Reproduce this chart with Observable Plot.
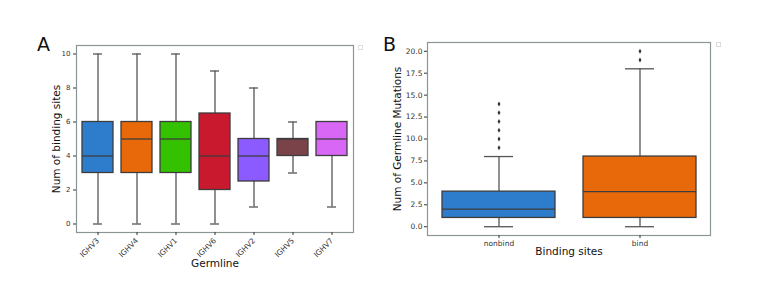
<!DOCTYPE html>
<html>
<head>
<meta charset="utf-8">
<script src="https://cdn.jsdelivr.net/npm/d3@7"></script>
<script src="https://cdn.jsdelivr.net/npm/@observablehq/plot@0.6"></script>
<style>
  body { margin: 0; background: #fff; font-family: "DejaVu Sans", sans-serif; }
  #wrap { position: relative; width: 762px; height: 290px; overflow: hidden; }
  .panel { position: absolute; top: 0; }
  .letter { position: absolute; font-family: "DejaVu Sans", sans-serif; font-size: 19px; color: #111; }
  .leg { position: absolute; width: 3px; height: 3px; border: 1px solid #ddd; background: #fff; }
</style>
</head>
<body>
<div id="wrap">
  <div class="panel" id="pa" style="left:0"></div>
  <div class="panel" id="pb" style="left:370px"></div>
  <div class="letter" style="left:37px; top:33px">A</div>
  <div class="letter" style="left:383px; top:33px">B</div>
  <div class="leg" style="left:358px; top:45px"></div>
  <div class="leg" style="left:716px; top:42px"></div>
</div>
<script>
// Panel A: binding sites per germline
const germlines = ["IGHV3", "IGHV4", "IGHV1", "IGHV6", "IGHV2", "IGHV5", "IGHV7"];
const germMin = [0, 0, 0, 0, 1, 3, 1];
const germQ1 = [3, 3, 3, 2, 2.5, 4, 4];
const germMed = [4, 5, 5, 4, 4, 5, 5];
const germQ3 = [6, 6, 6, 6.5, 5, 5, 6];
const germMax = [10, 10, 10, 9, 8, 6, 6];
const germColors = ["#2e7dcc", "#e8690a", "#33c100", "#c8192e", "#8c5bff", "#7a4349", "#d967f5"];
const aTicks = [0, 2, 4, 6, 8, 10];

// Panel B: germline mutations by binding site status
const sites = ["nonbind", "bind"];
const siteMin = [0, 0];
const siteQ1 = [1, 1];
const siteMed = [2, 4];
const siteQ3 = [4, 8];
const siteMax = [8, 18];
const siteOutliers = [[9, 10, 11, 12, 13, 14], [19, 20]];
const siteColors = ["#2e7dcc", "#e8690a"];
const bTicks = [0, 2.5, 5, 7.5, 10, 12.5, 15, 17.5, 20];

const lineCol = "#3d3d3d";
const whiskCol = "#555";
const frameCol = "#8a9696";

function boxMarks(cats, mins, q1s, meds, q3s, maxs, colors, capInset) {
  const rows = cats.map((c, i) => ({c, min: mins[i], q1: q1s[i], med: meds[i], q3: q3s[i], max: maxs[i], col: colors[i]}));
  return [
    Plot.ruleX(rows.filter(d => d.min < d.q1), {x: "c", y1: "min", y2: "q1", stroke: whiskCol, strokeWidth: 1.3}),
    Plot.ruleX(rows.filter(d => d.max > d.q3), {x: "c", y1: "q3", y2: "max", stroke: whiskCol, strokeWidth: 1.3}),
    Plot.tickY(rows.filter(d => d.min < d.q1), {x: "c", y: "min", stroke: whiskCol, strokeWidth: 1.3, insetLeft: capInset, insetRight: capInset}),
    Plot.tickY(rows.filter(d => d.max > d.q3), {x: "c", y: "max", stroke: whiskCol, strokeWidth: 1.3, insetLeft: capInset, insetRight: capInset}),
    Plot.barY(rows, {x: "c", y1: "q1", y2: "q3", fill: "col", stroke: lineCol, strokeWidth: 1.3}),
    Plot.tickY(rows, {x: "c", y: "med", stroke: lineCol, strokeWidth: 1.3})
  ];
}

const plotA = Plot.plot({
  width: 370, height: 290,
  marginLeft: 76, marginRight: 17, marginTop: 45, marginBottom: 58,
  style: {fontFamily: "DejaVu Sans, sans-serif", fontSize: "7px", color: "#333", background: "transparent"},
  x: {type: "band", domain: germlines, paddingInner: 0.2, paddingOuter: 0.1, label: null},
  y: {domain: [-0.5, 10.5], label: null},
  color: {type: "identity"},
  marks: [
    ...boxMarks(germlines, germMin, germQ1, germMed, germQ3, germMax, germColors, 11),
    Plot.frame({stroke: frameCol, strokeWidth: 1.2}),
    Plot.axisX({tickRotate: -45, tickSize: 3, tickPadding: 4, fontSize: 7.5, label: null}),
    Plot.axisY({ticks: aTicks, tickFormat: d => String(d), tickSize: 3, tickPadding: 3, fontSize: 7, label: null}),
    Plot.text(["Germline"], {frameAnchor: "bottom", dy: 34, fontSize: 10.5, fill: "#111"}),
    Plot.text(["Num of binding sites"], {frameAnchor: "left", dx: -20, rotate: -90, fontSize: 10.5, fill: "#111", textAnchor: "middle"})
  ]
});
document.getElementById("pa").append(plotA);

const rowsB = sites.flatMap((s, i) => siteOutliers[i].map(v => ({s, v})));
const plotB = Plot.plot({
  width: 392, height: 290,
  marginLeft: 57, marginRight: 52, marginTop: 42, marginBottom: 55,
  style: {fontFamily: "DejaVu Sans, sans-serif", fontSize: "7.5px", color: "#333", background: "transparent"},
  x: {type: "band", domain: sites, paddingInner: 0.2, paddingOuter: 0.1, label: null},
  y: {domain: [-1, 21], label: null},
  color: {type: "identity"},
  marks: [
    ...boxMarks(sites, siteMin, siteQ1, siteMed, siteQ3, siteMax, siteColors, 42),
    Plot.dot(rowsB, {x: "s", y: "v", symbol: "diamond", r: 1.5, fill: "#333", stroke: "none"}),
    Plot.frame({stroke: frameCol, strokeWidth: 1.2}),
    Plot.axisX({tickSize: 3, tickPadding: 2, fontSize: 7.5, label: null}),
    Plot.axisY({ticks: bTicks, tickFormat: d => d.toFixed(1), tickSize: 3, tickPadding: 2, fontSize: 7.5, label: null}),
    Plot.text(["Binding sites"], {frameAnchor: "bottom", dy: 19, fontSize: 10.5, fill: "#111"}),
    Plot.text(["Num of Germline Mutations"], {frameAnchor: "left", dx: -30, rotate: -90, fontSize: 10.5, fill: "#111", textAnchor: "middle"})
  ]
});
document.getElementById("pb").append(plotB);
</script>
</body>
</html>
